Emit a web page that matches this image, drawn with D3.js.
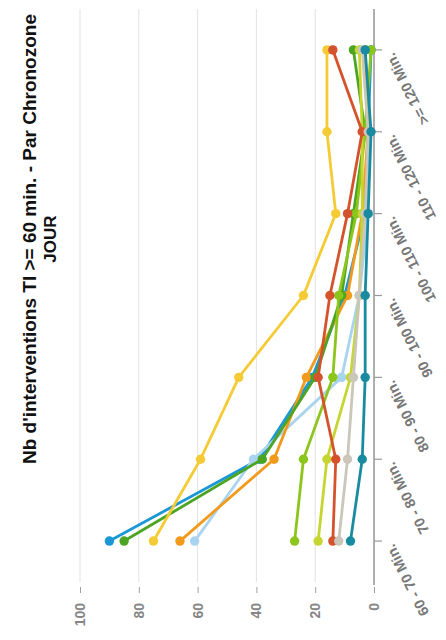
<!DOCTYPE html>
<html>
<head>
<meta charset="utf-8">
<script src="https://cdn.jsdelivr.net/npm/d3@7"></script>
<style>
  html, body { margin: 0; padding: 0; background: #fff; }
  svg { display: block; font-family: "Liberation Sans", Arial, sans-serif; }
</style>
</head>
<body>
<div id="chart"></div>
<script>
// ---- data ----
const categories = ["60 - 70 Min.", "70 - 80 Min.", "80 - 90 Min.", "90 - 100 Min.", "100 - 110 Min.", "110 - 120 Min.", ">= 120 Min."];
const yTicks = [0, 20, 40, 60, 80, 100];
const seriesNames = ["s1", "s2", "s3", "s4", "s5", "s6", "s7", "s8", "s9", "s10"];
const seriesColors = ["#1b97d5", "#a9d4f0", "#f29a1b", "#4ba422", "#f4cb35", "#8cc51c", "#c6d631", "#d4532c", "#cbc6ba", "#198ba0"];
const blueVals   = [90, 39, 21, 10, 3, 2, 1];
const lblueVals  = [61, 41, 11, 5, 2, 2, 3];
const orangeVals = [66, 34, 23, 9, 4, 2, 3];
const dgreenVals = [85, 38, 20, 11, 7, 3, 7];
const yellowVals = [75, 59, 46, 24, 13, 16, 16];
const limeVals   = [27, 24, 14, 12, 6, 3, 1];
const ygreenVals = [19, 16, 8, 5, 4, 4, 5];
const redVals    = [14, 13, 19, 15, 9, 4, 14];
const beigeVals  = [12, 9, 7, 5, 3, 2, 4];
const tealVals   = [8, 4, 3, 3, 2, 1, 3];
const seriesValues = [blueVals, lblueVals, orangeVals, dgreenVals, yellowVals, limeVals, ygreenVals, redVals, beigeVals, tealVals];
const titleText = "Nb d'interventions TI >= 60 min. - Par Chronozone";
const subtitleText = "JOUR";

// ---- layout (drawn in the unrotated frame, then rotated -90deg) ----
const W = 446, H = 640;
const svg = d3.select("#chart").append("svg").attr("width", W).attr("height", H);
const g = svg.append("g").attr("transform", `translate(0,${H}) rotate(-90)`);

const x = d3.scaleBand().domain(categories).range([58, 631]).padding(0);
const cx = c => x(c) + x.bandwidth() / 2;
const y = d3.scaleLinear().domain([0, 100]).range([374, 80]);

// gridlines
g.append("g").selectAll("line").data(yTicks).join("line")
  .attr("x1", 58).attr("x2", 631)
  .attr("y1", d => y(d)).attr("y2", d => y(d))
  .attr("stroke", "#e3e3e3").attr("stroke-width", 1);

// value axis (ticks + labels, no line)
const yAxis = g.append("g").attr("transform", "translate(53,0)")
  .call(d3.axisLeft(y).tickValues(yTicks).tickSize(6).tickPadding(10).tickFormat(d3.format("d")));
yAxis.select(".domain").remove();
yAxis.selectAll(".tick line").attr("stroke", "#a0a0a0");
yAxis.selectAll(".tick text")
  .attr("fill", "#858585").attr("font-size", 14).attr("font-weight", "bold")
  .attr("font-family", "'Liberation Sans', Arial, sans-serif");

// category axis
const xAxis = g.append("g").attr("transform", "translate(0,374)")
  .call(d3.axisBottom(x).tickSize(8).tickSizeOuter(0).tickFormat(""));
xAxis.select(".domain").attr("stroke", "#999").attr("stroke-width", 1.5)
  .attr("d", "M55,0H631");
xAxis.selectAll(".tick line").attr("stroke", "#999").attr("stroke-width", 1.2);

g.append("g").selectAll("text").data(categories).join("text")
  .attr("transform", d => `translate(${cx(d) - 2},${394}) rotate(-27)`)
  .attr("text-anchor", "end")
  .attr("fill", "#777").attr("font-size", 14.5).attr("font-weight", "bold")
  .text(d => d);

// series
const line = d3.line().x((d, i) => cx(categories[i])).y(d => y(d));
const sg = g.append("g");
seriesValues.forEach((vals, si) => {
  const col = seriesColors[si];
  const s = sg.append("g").attr("class", "series " + seriesNames[si]);
  s.append("path").datum(vals).attr("d", line)
    .attr("fill", "none").attr("stroke", col).attr("stroke-width", 2.8)
    .attr("stroke-linejoin", "round");
  s.selectAll("circle").data(vals).join("circle")
    .attr("cx", (d, i) => cx(categories[i])).attr("cy", d => y(d))
    .attr("r", 4.7).attr("fill", col);
});

// titles
g.append("text").attr("x", 401).attr("y", 36).attr("text-anchor", "middle")
  .attr("font-size", 19).attr("font-weight", "bold").attr("fill", "#111").text(titleText);
g.append("text").attr("x", 401).attr("y", 56).attr("text-anchor", "middle")
  .attr("font-size", 17).attr("font-weight", "bold").attr("fill", "#111").text(subtitleText);
</script>
</body>
</html>
